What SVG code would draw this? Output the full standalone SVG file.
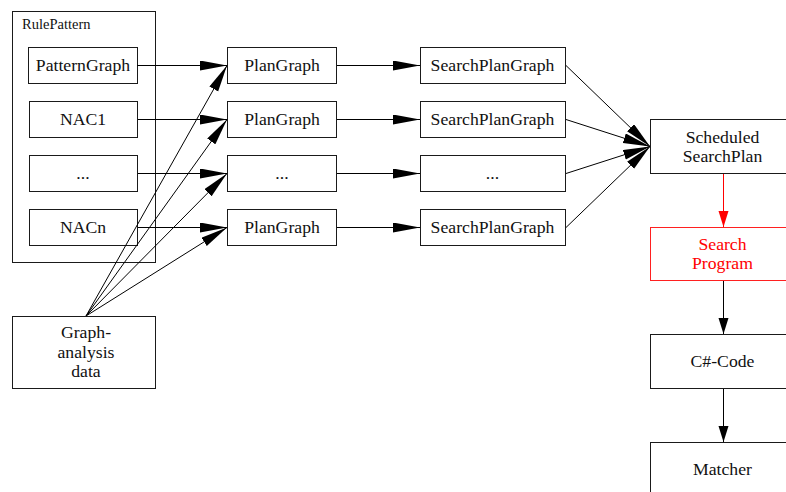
<svg xmlns="http://www.w3.org/2000/svg" width="786" height="492" viewBox="0 0 786 492">
<style>
.box{fill:#fff;stroke:#1a1a1a;stroke-width:1}
.red{fill:#fff;stroke:#ff2020;stroke-width:1}
text{font-family:"Liberation Serif","Times New Roman",serif;font-size:17.7px;fill:#111;text-anchor:middle}
.rt{fill:#ff0000}
.lbl{font-size:14.5px;text-anchor:start}
.ln{stroke:#000;stroke-width:1;fill:none}
.lr{stroke:#ff0000;stroke-width:1;fill:none}
</style>
<defs>
<marker id="big" markerUnits="userSpaceOnUse" markerWidth="28" markerHeight="11" refX="27" refY="5" orient="auto"><path d="M0,0 L27,5 L0,10 z" fill="#000"/></marker>
<marker id="small" markerUnits="userSpaceOnUse" markerWidth="17" markerHeight="11" refX="16" refY="5" orient="auto"><path d="M0,0 L16,5 L0,10 z" fill="#000"/></marker>
<marker id="smallr" markerUnits="userSpaceOnUse" markerWidth="17" markerHeight="11" refX="16" refY="5" orient="auto"><path d="M0,0 L16,5 L0,10 z" fill="#ff0000"/></marker>
</defs>
<rect width="786" height="492" fill="#fff"/>
<g id="rulepattern"><rect class="box" x="12.5" y="11.5" width="143" height="251"/><text class="lbl" x="22" y="29">RulePattern</text></g>
<g id="patterngraph"><rect class="box" x="28.5" y="47.5" width="109" height="36"/><text x="83" y="71">PatternGraph</text></g>
<g id="nac1"><rect class="box" x="29.5" y="101.5" width="108" height="36"/><text x="83" y="125">NAC1</text></g>
<g id="nacdots"><rect class="box" x="29.5" y="155.5" width="108" height="36"/><text x="83" y="179">...</text></g>
<g id="nacn"><rect class="box" x="29.5" y="209.5" width="108" height="36"/><text x="83" y="233">NACn</text></g>
<g id="data"><rect class="box" x="12.5" y="316.5" width="143" height="72"/><text x="86" y="338">Graph-</text><text x="86" y="357.5">analysis</text><text x="86" y="377">data</text></g>
<g id="plan1"><rect class="box" x="227.5" y="47.5" width="109" height="36"/><text x="282" y="71">PlanGraph</text></g>
<g id="plan2"><rect class="box" x="227.5" y="101.5" width="109" height="36"/><text x="282" y="125">PlanGraph</text></g>
<g id="plan3"><rect class="box" x="227.5" y="155.5" width="109" height="36"/><text x="282" y="179">...</text></g>
<g id="plan4"><rect class="box" x="227.5" y="209.5" width="109" height="36"/><text x="282" y="233">PlanGraph</text></g>
<g id="sp1"><rect class="box" x="420.5" y="47.5" width="145" height="36"/><text x="492.5" y="71">SearchPlanGraph</text></g>
<g id="sp2"><rect class="box" x="420.5" y="101.5" width="145" height="36"/><text x="492.5" y="125">SearchPlanGraph</text></g>
<g id="sp3"><rect class="box" x="420.5" y="155.5" width="145" height="36"/><text x="492.5" y="179">...</text></g>
<g id="sp4"><rect class="box" x="420.5" y="209.5" width="145" height="36"/><text x="492.5" y="233">SearchPlanGraph</text></g>
<g id="scheduled"><rect class="box" x="650.5" y="119.5" width="146" height="54"/><text x="722.5" y="142.5">Scheduled</text><text x="722.5" y="161.5">SearchPlan</text></g>
<g id="searchprogram"><rect class="red" x="650.5" y="227.5" width="146" height="53"/><text class="rt" x="722.5" y="250">Search</text><text class="rt" x="722.5" y="269">Program</text></g>
<g id="csharp"><rect class="box" x="650.5" y="334.5" width="146" height="54"/><text x="722.5" y="367">C#-Code</text></g>
<g id="matcher"><rect class="box" x="650.5" y="442.5" width="146" height="54"/><text x="722.5" y="475">Matcher</text></g>
<g id="connectors">
<line class="ln" x1="137" y1="65.5" x2="227" y2="65.5" marker-end="url(#big)"/>
<line class="ln" x1="138" y1="119.5" x2="227" y2="119.5" marker-end="url(#big)"/>
<line class="ln" x1="138" y1="173.5" x2="227" y2="173.5" marker-end="url(#big)"/>
<line class="ln" x1="138" y1="227.5" x2="227" y2="227.5" marker-end="url(#big)"/>
<line class="ln" x1="86" y1="316" x2="227" y2="65.5" marker-end="url(#big)"/>
<line class="ln" x1="86" y1="316" x2="227" y2="119.5" marker-end="url(#big)"/>
<line class="ln" x1="86" y1="316" x2="227" y2="173.5" marker-end="url(#big)"/>
<line class="ln" x1="86" y1="316" x2="227" y2="227.5" marker-end="url(#big)"/>
<line class="ln" x1="337" y1="65.5" x2="420" y2="65.5" marker-end="url(#big)"/>
<line class="ln" x1="337" y1="119.5" x2="420" y2="119.5" marker-end="url(#big)"/>
<line class="ln" x1="337" y1="173.5" x2="420" y2="173.5" marker-end="url(#big)"/>
<line class="ln" x1="337" y1="227.5" x2="420" y2="227.5" marker-end="url(#big)"/>
<line class="ln" x1="566" y1="65.5" x2="650" y2="146.5" marker-end="url(#big)"/>
<line class="ln" x1="566" y1="119.5" x2="650" y2="146.5" marker-end="url(#big)"/>
<line class="ln" x1="566" y1="173.5" x2="650" y2="146.5" marker-end="url(#big)"/>
<line class="ln" x1="566" y1="227.5" x2="650" y2="146.5" marker-end="url(#big)"/>
<line class="lr" x1="723.5" y1="174" x2="723.5" y2="227" marker-end="url(#smallr)"/>
<line class="ln" x1="723.5" y1="281" x2="723.5" y2="334" marker-end="url(#small)"/>
<line class="ln" x1="723.5" y1="389" x2="723.5" y2="442" marker-end="url(#small)"/>
</g>
</svg>
